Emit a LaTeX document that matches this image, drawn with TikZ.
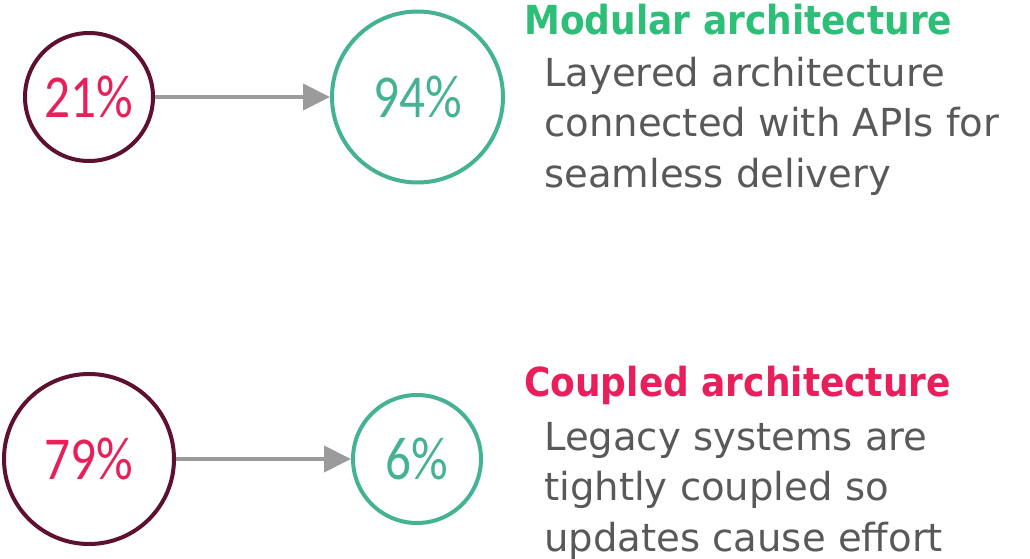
\documentclass[tikz,border=0pt]{standalone}
\usepackage{fontspec}
\usetikzlibrary{arrows.meta}
\newfontfamily\numfont{Carlito}[FakeStretch=0.84]
\newfontfamily\bodyfont{DejaVu Sans}
\newfontfamily\headfont{DejaVu Sans Condensed}
\definecolor{ringmaroon}{HTML}{5E1030}
\definecolor{numpink}{HTML}{E8205A}
\definecolor{ringgreen}{HTML}{45B294}
\definecolor{headgreen}{HTML}{2DBE78}
\definecolor{headpink}{HTML}{E91E5A}
\definecolor{bodygray}{HTML}{595959}
\definecolor{arrowgray}{HTML}{9B9B9B}
\tikzset{
  ring/.style={circle, draw, line width=4pt, inner sep=0pt, font=\numfont\fontsize{61}{61}\selectfont},
  before/.style={ring, draw=ringmaroon, text=numpink},
  after/.style={ring, draw=ringgreen, text=ringgreen},
  link/.style={draw=arrowgray, line width=4pt, -{Triangle[length=27pt,width=26pt]}},
  headtext/.style={anchor=base west, inner sep=0pt, font=\headfont\bfseries\fontsize{40}{40}\selectfont},
  bodytext/.style={anchor=base west, inner sep=0pt, align=left, text=bodygray, font=\bodyfont\fontsize{38.6}{50.5}\selectfont}
}
\begin{document}
\begin{tikzpicture}[x=1pt,y=-1pt]
\useasboundingbox (0,0) rectangle (1030,559);
\node[before, minimum size=128pt] (p1) at (89,97) {21\%};
\node[after, minimum size=171pt] (q1) at (417.5,97) {94\%};
\node[before, minimum size=170pt] (p2) at (89,459) {79\%};
\node[after, minimum size=128pt] (q2) at (417,459) {6\%};
\draw[link] (p1) -- (q1);
\draw[link] (p2) -- (q2);
\node[headtext, text=headgreen] (h1) at (524,35) {Modular architecture};
\node[bodytext] (b1) at (544,187) {Layered architecture\\connected with APIs for\\seamless delivery};
\node[headtext, text=headpink] (h2) at (524,396) {Coupled architecture};
\node[bodytext] (b2) at (544,551) {Legacy systems are\\tightly coupled so\\updates cause effort};
\end{tikzpicture}
\end{document}
